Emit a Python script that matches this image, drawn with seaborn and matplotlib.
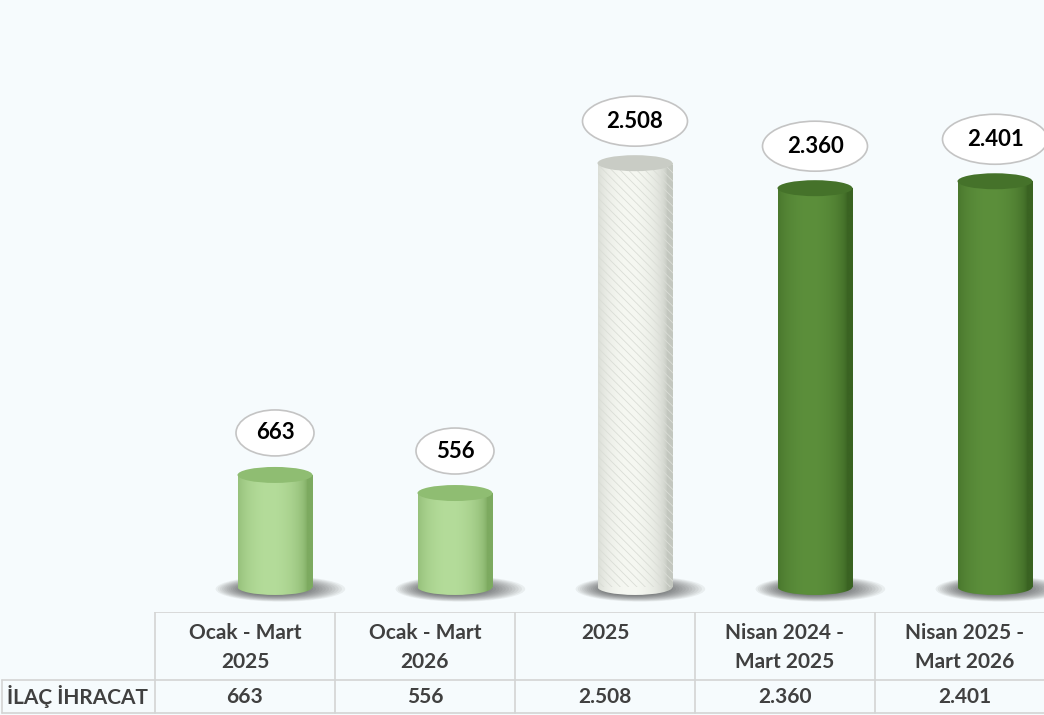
import numpy as np
import pandas as pd
import matplotlib
matplotlib.use("Agg")
import matplotlib.pyplot as plt
from matplotlib.patches import Ellipse
from matplotlib.colors import to_rgb
import seaborn as sns

#%% Data
donemler = ["Ocak - Mart\n2025", "Ocak - Mart\n2026", "2025",
            "Nisan 2024 -\nMart 2025", "Nisan 2025 -\nMart 2026"]
ihracat = [663, 556, 2508, 2360, 2401]
satir_adi = "İLAÇ İHRACAT"

# cylinder colours: (edge, middle, top)
renkler = [("#7DAA60", "#B4DC9A", "#8FBD72"),
           ("#7DAA60", "#B4DC9A", "#8FBD72"),
           ("#C3C7BF", "#F6F8F2", "#C9CCC5"),
           ("#3A6322", "#5C8F3B", "#45722A"),
           ("#3A6322", "#5C8F3B", "#45722A")]

bg = "#F6FBFD"
fmt = lambda v: f"{v:,}".replace(",", ".")

sns.set_style("white")
plt.rcParams["font.family"] = ["Lato", "DejaVu Sans"]
plt.rcParams["hatch.linewidth"] = 0.6

df = pd.DataFrame({"donem": donemler, "deger": ihracat})

#%% Figure
fig = plt.figure(figsize=(10.44, 7.15), dpi=100, facecolor=bg)
ax = fig.add_axes([0, 0.1436, 1, 0.839])
ax.set_facecolor("none")

bar_w = 75 / 180
sns.barplot(data=df, x="donem", y="deger", hue="donem", dodge=False,
            palette=[r[1] for r in renkler], width=bar_w, legend=False, ax=ax)

px_y = 0.169          # pixels per unit
eh = 16 / px_y        # ellipse height of cylinder caps
bars = list(ax.patches)

for i, (bar, (edge, mid, top)) in enumerate(zip(bars, renkler)):
    x0 = bar.get_x()
    w = bar.get_width()
    xc = x0 + w / 2
    h = bar.get_height()

    # shadow (soft, layered)
    for k in range(22):
        f = 1 - k / 24
        ax.add_patch(Ellipse((xc + 0.03 - 0.07 * (1 - f), -12), 0.72 * f, 150 * f,
                             color="#1e1e1e", alpha=0.06, lw=0, zorder=1))

    # body gradient
    u = np.linspace(-1, 1, 200)
    t = np.clip(1 - (u + 0.15) ** 2, 0, 1) ** 0.6
    c0, c1 = np.array(to_rgb(edge)), np.array(to_rgb(mid))
    img = (c0[None, :] * (1 - t[:, None]) + c1[None, :] * t[:, None])[None, :, :]
    im = ax.imshow(img, extent=(x0, x0 + w, 0, h), aspect="auto", zorder=2,
                   interpolation="bilinear")
    im.set_clip_path(bar)
    bot = Ellipse((xc, 0), w, eh, facecolor="none", lw=0, zorder=2)
    ax.add_patch(bot)
    im2 = ax.imshow(img, extent=(x0, x0 + w, -eh, eh), aspect="auto", zorder=2,
                    interpolation="bilinear")
    im2.set_clip_path(bot)

    bar.set_facecolor("none")
    bar.set_zorder(2.5)
    bar.set_linewidth(0)
    if i == 2:
        bar.set_hatch("\\\\\\\\")
        bar.set_edgecolor("#DADDD6")
    else:
        bar.set_edgecolor("none")

    # top cap
    ax.add_patch(Ellipse((xc, h), w, eh, facecolor=top, edgecolor="none", zorder=3))

    # value callout
    lab = fmt(ihracat[i])
    ew = 78 / 180 if len(lab) <= 3 else 105 / 180
    ehh = 46 / px_y if len(lab) <= 3 else 50 / px_y
    ly = h + 42 / px_y
    ax.add_patch(Ellipse((xc, ly), ew, ehh, facecolor="white",
                         edgecolor="#C4C4C4", lw=1.2, zorder=4))
    ax.text(xc, ly, lab, ha="center", va="center", fontsize=16,
            fontweight="bold", color="black", zorder=5)

ax.set_xlim(-275 / 180, (1044 - 275) / 180)
ax.set_ylim(-150, 3400)
ax.set_axis_off()

#%% Data table
tab = fig.add_axes([0, 0, 1, 103 / 715])
tab.set_xlim(-0.5 - 155 / 180, -0.5 + (1044 - 155) / 180)
tab.set_ylim(0, 103)
tab.set_axis_off()
lc = "#D4D4D4"
n = len(donemler)
tab.plot([-0.5, n], [103, 103], color=lc, lw=1.2)
tab.plot([-0.5 - 153 / 180, n], [35, 35], color=lc, lw=1.2)
tab.plot([-0.5 - 153 / 180, n], [2, 2], color=lc, lw=1.2)
tab.plot([-0.5 - 153 / 180] * 2, [2, 35], color=lc, lw=1.2)
for j in range(n):
    tab.plot([j - 0.5, j - 0.5], [2, 103], color=lc, lw=1.2)
for j, (d, v) in enumerate(zip(donemler, ihracat)):
    tab.text(j, 92, d, ha="center", va="top", fontsize=15, fontweight="bold",
             color="#404040", linespacing=1.55)
    tab.text(j, 18, fmt(v), ha="center", va="center", fontsize=15,
             fontweight="bold", color="#404040")
tab.text(-0.5 - 148 / 180, 18, satir_adi, ha="left", va="center", fontsize=15,
         fontweight="bold", color="#404040")

fig.savefig("out.png", dpi=100, facecolor=bg)
